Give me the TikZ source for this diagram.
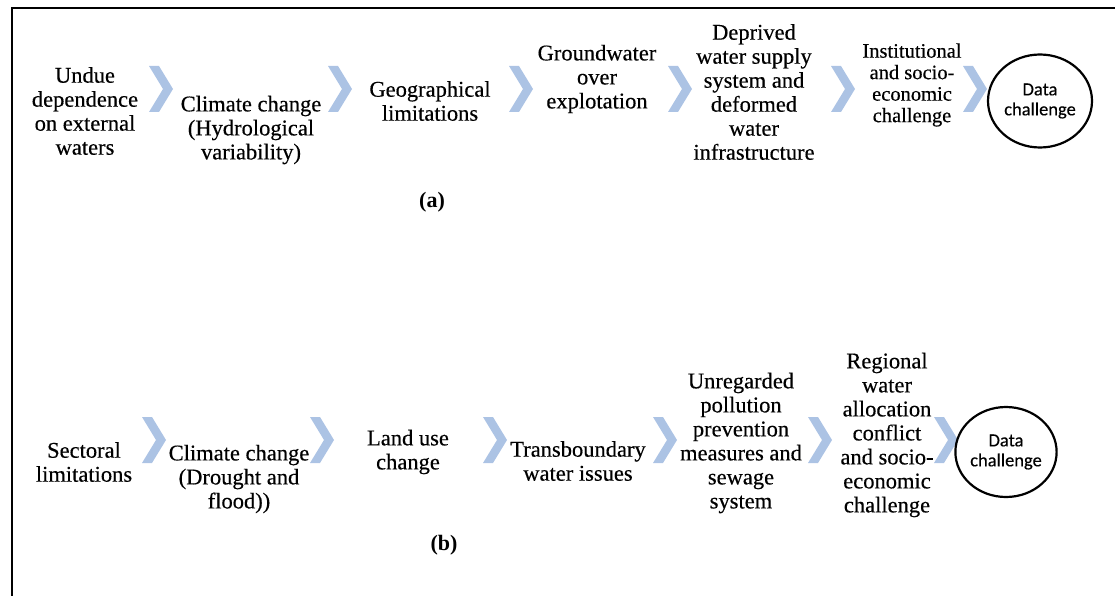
\documentclass[tikz,border=0pt]{standalone}
\usepackage{fontspec}
\setmainfont{Liberation Serif}
\newfontfamily\calib[FakeBold=0.3]{Carlito}
\newfontfamily\lserif[FakeBold=0.4]{Liberation Serif}
\usetikzlibrary{shapes.geometric}
\definecolor{chevblue}{RGB}{172,195,228}
\tikzset{
  txt/.style={align=center, inner sep=0pt, font=\lserif\fontsize{22.5}{24}\selectfont},
  txtsmall/.style={align=center, inner sep=0pt, font=\lserif\fontsize{20.5}{21.5}\selectfont},
  endcirc/.style={ellipse, draw, line width=2.2pt, inner sep=0pt, align=center,
    font=\calib\fontsize{18.5}{20}\selectfont},
  lbl/.style={inner sep=0pt, font=\bfseries\fontsize{22}{24}\selectfont},
  chev/.style={minimum width=24pt, minimum height=46pt, inner sep=0pt,
    path picture={\fill[chevblue] (path picture bounding box.north west) -- ++(10pt,0pt)
      -- (path picture bounding box.east) -- ([xshift=10pt]path picture bounding box.south west)
      -- (path picture bounding box.south west) -- ([xshift=14pt]path picture bounding box.west) -- cycle;}},
  frame/.style={line width=2.5pt, black}
}
\begin{document}
\begin{tikzpicture}[x=1pt,y=-1pt]
\useasboundingbox (0,0) rectangle (1115,596);
\coordinate (fb) at (12,596);
\coordinate (fc) at (12,8);
\coordinate (fr) at (1115,8);
\draw[frame] (fb) -- (fc) -- (fr);

% row (a)
\node[txt] (a1) at (85,111) {Undue\\dependence\\on external\\waters};
\node[chev] (ca1) at (161,89) {};
\node[txt] (a2) at (251,130) {Climate change\\(Hydrological\\variability)};
\node[chev] (ca2) at (340,89) {};
\node[txt] (a3) at (430,101) {Geographical\\limitations};
\node[chev] (ca3) at (521,89) {};
\node[txt] (a4) at (597,79) {Groundwater\\over\\explotation};
\node[chev] (ca4) at (680,89) {};
\node[txt] (a5) at (754,92) {Deprived\\water supply\\system and\\deformed\\water\\infrastructure};
\node[chev] (ca5) at (843,89) {};
\node[txtsmall] (a6) at (912,85) {Institutional\\and socio-\\economic\\challenge};
\node[chev] (ca6) at (975,89) {};
\node[endcirc, minimum width=104pt, minimum height=93pt] (a7) at (1040,101) {Data\\challenge};
\node[lbl] (la) at (432,202) {(a)};

% row (b)
\node[txt] (b1) at (84,462) {Sectoral\\limitations};
\node[chev] (cb1) at (154,440) {};
\node[txt] (b2) at (239,479) {Climate change\\(Drought and\\flood))};
\node[chev] (cb2) at (322,440) {};
\node[txt] (b3) at (408,452) {Land use\\change};
\node[chev] (cb3) at (495,440) {};
\node[txt] (b4) at (578,461) {Transboundary\\water issues};
\node[chev] (cb4) at (665,440) {};
\node[txt] (b5) at (741,443) {Unregarded\\pollution\\prevention\\measures and\\sewage\\system};
\node[chev] (cb5) at (820,440) {};
\node[txt] (b6) at (887,435) {Regional\\water\\allocation\\conflict\\and socio-\\economic\\challenge};
\node[chev] (cb6) at (946,440) {};
\node[endcirc, minimum width=100pt, minimum height=90pt] (b7) at (1006,452) {Data\\challenge};
\node[lbl] (lb) at (444,545) {(b)};
\end{tikzpicture}
\end{document}
